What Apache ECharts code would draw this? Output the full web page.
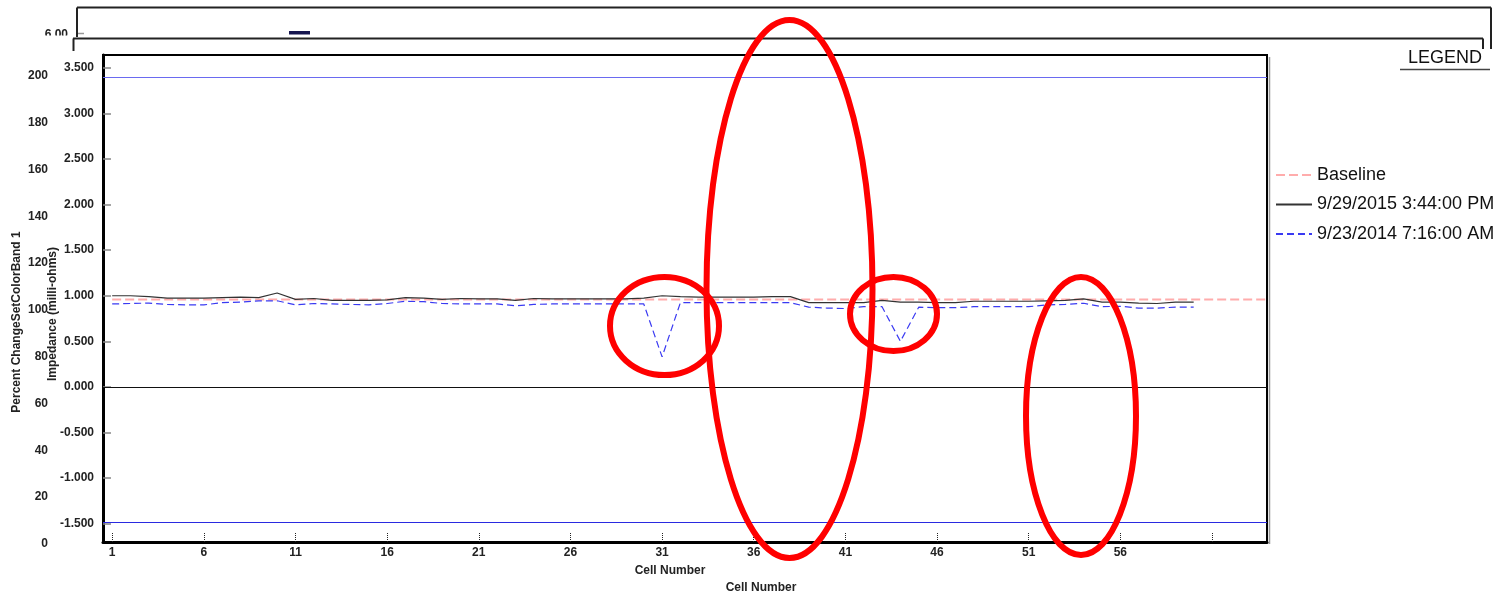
<!DOCTYPE html>
<html>
<head>
<meta charset="utf-8">
<title>Cell impedance</title>
<script src="https://cdn.jsdelivr.net/npm/echarts@6/dist/echarts.min.js"></script>
<style>
  html, body { margin: 0; padding: 0; background: #fff; }
  #chart { width: 1502px; height: 596px; }
</style>
</head>
<body>
<div id="chart"></div>
<script>
// Cell numbers along the string
const cellNumbers = [1, 2, 3, 4, 5, 6, 7, 8, 9, 10, 11, 12, 13, 14, 15, 16, 17, 18, 19, 20,
  21, 22, 23, 24, 25, 26, 27, 28, 29, 30, 31, 32, 33, 34, 35, 36, 37, 38, 39, 40,
  41, 42, 43, 44, 45, 46, 47, 48, 49, 50, 51, 52, 53, 54, 55, 56, 57, 58, 59, 60];
const baselineCells = [1, 2, 3, 4, 5, 6, 7, 8, 9, 10, 11, 12, 13, 14, 15, 16, 17, 18, 19, 20,
  21, 22, 23, 24, 25, 26, 27, 28, 29, 30, 31, 32, 33, 34, 35, 36, 37, 38, 39, 40,
  41, 42, 43, 44, 45, 46, 47, 48, 49, 50, 51, 52, 53, 54, 55, 56, 57, 58, 59, 60,
  61, 62, 63, 64];

// Impedance readings (milli-ohms)
const baselineValues = [0.96, 0.96, 0.96, 0.96, 0.96, 0.96, 0.96, 0.96, 0.96, 0.96,
  0.96, 0.96, 0.96, 0.96, 0.96, 0.96, 0.96, 0.96, 0.96, 0.96,
  0.96, 0.96, 0.96, 0.96, 0.96, 0.96, 0.96, 0.96, 0.96, 0.96,
  0.96, 0.96, 0.96, 0.96, 0.96, 0.96, 0.96, 0.96, 0.96, 0.96,
  0.96, 0.96, 0.96, 0.96, 0.96, 0.96, 0.96, 0.96, 0.96, 0.96,
  0.96, 0.96, 0.96, 0.96, 0.96, 0.96, 0.96, 0.96, 0.96, 0.96,
  0.96, 0.96, 0.96, 0.96];
const reading2015 = [1.00, 1.00, 0.99, 0.975, 0.975, 0.975, 0.98, 0.985, 0.98, 1.03,
  0.96, 0.97, 0.95, 0.95, 0.95, 0.955, 0.98, 0.975, 0.96, 0.97,
  0.965, 0.965, 0.95, 0.97, 0.965, 0.965, 0.965, 0.965, 0.965, 0.975,
  1.00, 0.99, 0.985, 0.985, 0.985, 0.985, 0.99, 0.99, 0.925, 0.925,
  0.925, 0.925, 0.95, 0.93, 0.93, 0.925, 0.925, 0.94, 0.94, 0.94,
  0.94, 0.945, 0.95, 0.965, 0.93, 0.93, 0.92, 0.915, 0.93, 0.93];
const reading2014 = [0.91, 0.915, 0.92, 0.905, 0.90, 0.90, 0.925, 0.93, 0.945, 0.945,
  0.90, 0.915, 0.91, 0.905, 0.90, 0.915, 0.94, 0.935, 0.915, 0.91,
  0.91, 0.91, 0.89, 0.905, 0.91, 0.91, 0.91, 0.91, 0.91, 0.91,
  0.33, 0.925, 0.925, 0.925, 0.925, 0.925, 0.925, 0.925, 0.875, 0.865,
  0.86, 0.88, 0.88, 0.50, 0.875, 0.87, 0.87, 0.88, 0.88, 0.88,
  0.88, 0.90, 0.905, 0.918, 0.88, 0.885, 0.865, 0.865, 0.875, 0.875];

// Reference lines
const upperLimit = 3.395;
const lowerLimit = -1.48;

// Tick labels
const cellTickLabels = [1, 6, 11, 16, 21, 26, 31, 36, 41, 46, 51, 56];
const cellTickMarks = [1, 6, 11, 16, 21, 26, 31, 36, 41, 46, 51, 56, 61];
const impedanceTicks = [-1.5, -1.0, -0.5, 0, 0.5, 1.0, 1.5, 2.0, 2.5, 3.0, 3.5];

const seriesNames = ['Baseline', '9/29/2015 3:44:00 PM', '9/23/2014 7:16:00 AM'];

const FONT = '"Liberation Sans", Arial, sans-serif';
const pairs = (xs, ys) => xs.map((x, i) => [x, ys[i]]);

const chart = echarts.init(document.getElementById('chart'), null, { renderer: 'canvas' });

const option = {
  backgroundColor: '#ffffff',
  animation: false,
  textStyle: { fontFamily: FONT },
  legend: {
    orient: 'vertical',
    left: 1270,
    top: 160,
    itemWidth: 36,
    itemHeight: 14,
    itemGap: 9.5,
    data: seriesNames,
    itemStyle: { opacity: 0 },
    textStyle: { fontSize: 18, fontFamily: FONT, color: '#111', lineHeight: 20 }
  },
  grid: [
    { left: 103, right: 235, top: 55, bottom: 54, show: true, borderColor: '#000', borderWidth: 2 },
    { left: 56, right: 1400, top: 75.9, bottom: 52.1 }
  ],
  xAxis: [
    {
      gridIndex: 0, type: 'value', min: 0.5, max: 64,
      axisLine: { show: true, onZero: false, lineStyle: { color: '#000', width: 3 } },
      axisTick: { show: true, inside: true, length: 9, customValues: cellTickMarks,
        lineStyle: { color: '#222', type: 'dotted', width: 1 } },
      axisLabel: { customValues: cellTickLabels, fontSize: 12, fontWeight: 'bold', color: '#222',
        margin: 5, fontFamily: FONT },
      splitLine: { show: false }
    },
    { gridIndex: 1, type: 'value', min: 0, max: 1, show: false }
  ],
  yAxis: [
    {
      gridIndex: 0, type: 'value', min: -1.7, max: 3.64,
      axisLine: { show: true, lineStyle: { color: '#000', width: 3 } },
      axisTick: { show: true, inside: true, length: 8, customValues: impedanceTicks,
        lineStyle: { color: '#888', width: 1.5 } },
      axisLabel: { customValues: impedanceTicks, formatter: v => v.toFixed(3), fontSize: 12,
        fontWeight: 'bold', color: '#222', margin: 9, fontFamily: FONT },
      splitLine: { show: false }
    },
    {
      gridIndex: 1, type: 'value', min: 0, max: 200, interval: 20,
      axisLine: { show: false }, axisTick: { show: false }, splitLine: { show: false },
      axisLabel: { fontSize: 12, fontWeight: 'bold', color: '#222', margin: 8, fontFamily: FONT }
    }
  ],
  series: [
    {
      name: seriesNames[0], type: 'line', xAxisIndex: 0, yAxisIndex: 0,
      data: pairs(baselineCells, baselineValues),
      symbol: 'none', z: 3,
      lineStyle: { color: '#ffacac', width: 2, type: [9, 4] },
      itemStyle: { color: '#ffacac' },
      markLine: {
        silent: true, symbol: ['none', 'none'], label: { show: false },
        data: [
          { yAxis: upperLimit, lineStyle: { color: '#6a6af0', width: 1.2, type: 'solid' } },
          { yAxis: 0, lineStyle: { color: '#111', width: 1, type: 'solid' } },
          { yAxis: lowerLimit, lineStyle: { color: '#2a2ae0', width: 1.2, type: 'solid' } }
        ]
      }
    },
    {
      name: seriesNames[1], type: 'line', xAxisIndex: 0, yAxisIndex: 0,
      data: pairs(cellNumbers, reading2015),
      symbol: 'none', z: 4,
      lineStyle: { color: '#333333', width: 1.2, type: 'solid' },
      itemStyle: { color: '#333333' }
    },
    {
      name: seriesNames[2], type: 'line', xAxisIndex: 0, yAxisIndex: 0,
      data: pairs(cellNumbers, reading2014),
      symbol: 'none', z: 5,
      lineStyle: { color: '#3a3af2', width: 1.2, type: [7, 4] },
      itemStyle: { color: '#3a3af2' }
    }
  ],
  graphic: [
    // frames of the panels stacked behind the plot
    { type: 'line', shape: { x1: 77, y1: 7.5, x2: 1491, y2: 7.5 }, style: { stroke: '#222', lineWidth: 2 } },
    { type: 'line', shape: { x1: 77, y1: 7.5, x2: 77, y2: 37 }, style: { stroke: '#222', lineWidth: 2 } },
    { type: 'line', shape: { x1: 1491, y1: 7.5, x2: 1491, y2: 49 }, style: { stroke: '#222', lineWidth: 2 } },
    { type: 'line', shape: { x1: 73, y1: 38.5, x2: 1483, y2: 38.5 }, style: { stroke: '#222', lineWidth: 2 } },
    { type: 'line', shape: { x1: 73.5, y1: 38.5, x2: 73.5, y2: 51 }, style: { stroke: '#222', lineWidth: 2 } },
    { type: 'line', shape: { x1: 1483, y1: 38.5, x2: 1483, y2: 49 }, style: { stroke: '#222', lineWidth: 2 } },
    { type: 'line', shape: { x1: 78, y1: 33.5, x2: 84, y2: 33.5 }, style: { stroke: '#999', lineWidth: 1.5 } },
    { type: 'rect', shape: { x: 289, y: 31, width: 21, height: 3.5 }, style: { fill: '#15154f' } },
    { type: 'text', z: -2, style: { x: 68, y: 35, text: '6.00', textAlign: 'right', textVerticalAlign: 'middle',
      font: 'bold 12px ' + FONT, fill: '#222' } },
    { type: 'rect', z: -1, shape: { x: 30, y: 35.5, width: 43, height: 12 }, style: { fill: '#fff' } },
    // plot shadow edge
    { type: 'line', shape: { x1: 1269.5, y1: 57, x2: 1269.5, y2: 544 }, style: { stroke: '#999', lineWidth: 1.5 } },
    // legend heading
    { type: 'text', style: { x: 1445, y: 58, text: 'LEGEND', textAlign: 'center', textVerticalAlign: 'middle',
      font: '18px ' + FONT, fill: '#111' } },
    { type: 'line', shape: { x1: 1400, y1: 69.5, x2: 1490, y2: 69.5 }, style: { stroke: '#444', lineWidth: 1.5 } },
    // axis titles
    { type: 'text', x: 17, y: 322, rotation: Math.PI / 2,
      style: { x: 0, y: 0, text: 'Percent ChangeSetColorBand 1', textAlign: 'center', textVerticalAlign: 'middle',
        font: 'bold 12px ' + FONT, fill: '#222' } },
    { type: 'text', x: 53, y: 314, rotation: Math.PI / 2,
      style: { x: 0, y: 0, text: 'Impedance (milli-ohms)', textAlign: 'center', textVerticalAlign: 'middle',
        font: 'bold 12px ' + FONT, fill: '#222' } },
    { type: 'text', style: { x: 670, y: 571, text: 'Cell Number', textAlign: 'center', textVerticalAlign: 'middle',
      font: 'bold 12px ' + FONT, fill: '#222' } },
    { type: 'text', style: { x: 761, y: 588, text: 'Cell Number', textAlign: 'center', textVerticalAlign: 'middle',
      font: 'bold 12px ' + FONT, fill: '#222' } },
    // red highlight rings
    { type: 'ellipse', z: 100, shape: { cx: 664.5, cy: 326, rx: 54.5, ry: 49 },
      style: { fill: 'none', stroke: '#ff0000', lineWidth: 6 } },
    { type: 'ellipse', z: 100, shape: { cx: 789.5, cy: 289, rx: 83, ry: 269 },
      style: { fill: 'none', stroke: '#ff0000', lineWidth: 6 } },
    { type: 'ellipse', z: 100, shape: { cx: 893.5, cy: 314, rx: 43.5, ry: 37 },
      style: { fill: 'none', stroke: '#ff0000', lineWidth: 6 } },
    { type: 'ellipse', z: 100, shape: { cx: 1081, cy: 416, rx: 55, ry: 139 },
      style: { fill: 'none', stroke: '#ff0000', lineWidth: 6 } }
  ]
};

chart.setOption(option);
</script>
</body>
</html>
